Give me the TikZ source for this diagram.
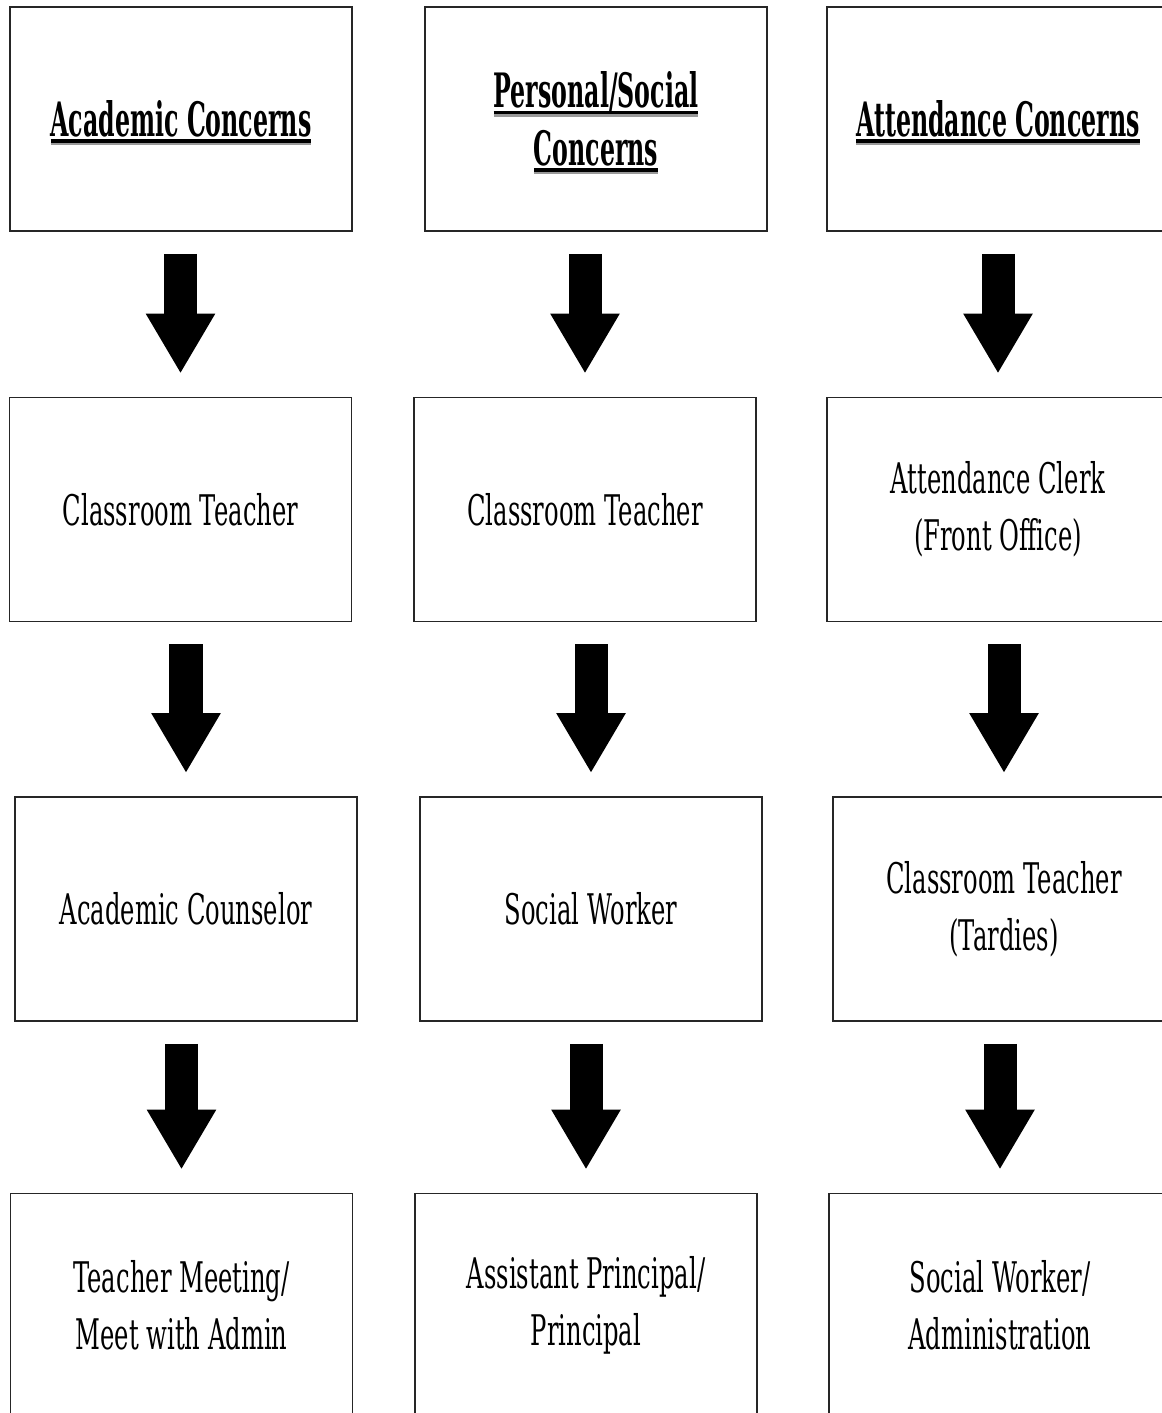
\documentclass[tikz,border=0pt]{standalone}
\usepackage{fontspec}
\setmainfont{DejaVu Serif}[FakeStretch=0.575]
\newfontfamily\headfont{DejaVu Serif}[FakeStretch=0.5]
\usetikzlibrary{arrows.meta}
\newsavebox{\headbox}
\newcommand{\uhead}[1]{\sbox{\headbox}{#1}%
  \rlap{\smash{\color{black!40}\rule[-6.2pt]{\wd\headbox}{1.7pt}}}%
  \rlap{\smash{\rule[-4.5pt]{\wd\headbox}{2.6pt}}}\usebox{\headbox}}

\begin{document}
\begin{tikzpicture}[x=0.025cm,y=-0.025cm,
		box/.style={rectangle,draw=black!85,line width=1.2pt,minimum width=8.55cm,minimum height=5.6cm,inner sep=0pt,align=center,font=\fontsize{30}{40.5}\selectfont},
		head/.style={box,font=\headfont\bfseries\fontsize{33.7}{41}\selectfont},
		flow/.style={line width=0.825cm,-{Triangle[length=1.5cm,width=1.625cm]},shorten <=0.55cm,shorten >=0.575cm}]
		\clip (0,0) rectangle (1162,1413);
		\fill[white] (0,0) rectangle (1162,1413);

		\node[head] (acad)  at (181,119)      {\uhead{Academic Concerns}};
		\node[head] (pers)  at (596,119)      {\uhead{Personal/Social}\\\uhead{Concerns}};
		\node[head] (att)   at (998,119)      {\uhead{Attendance Concerns}};

		\node[box]  (ct1)   at (180.5,509.5)  {Classroom Teacher};
		\node[box]  (ct2)   at (585,509.5)    {Classroom Teacher};
		\node[box]  (clerk) at (998,509.5)    {Attendance Clerk\\(Front Office)};

		\node[box]  (couns) at (186,909)      {Academic Counselor};
		\node[box]  (sw)    at (591,909)      {Social Worker};
		\node[box]  (ct3)   at (1004,909)     {Classroom Teacher\\(Tardies)};

		\node[box]  (meet)  at (181.5,1305.5) {Teacher Meeting/\\Meet with Admin};
		\node[box]  (prin)  at (586,1305.5)   {Assistant Principal/\\Principal};
		\node[box]  (swadm) at (1000,1305.5)  {Social Worker/\\Administration};

		\path[flow]
		(acad.south -| ct1.north) edge (ct1.north)
		(pers.south -| ct2.north) edge (ct2.north)
		(att.south -| clerk.north) edge (clerk.north)
		(ct1.south -| couns.north) edge (couns.north)
		(ct2.south -| sw.north) edge (sw.north)
		(clerk.south -| ct3.north) edge (ct3.north)
		(couns.south -| meet.north) edge (meet.north)
		(sw.south -| prin.north) edge (prin.north)
		(ct3.south -| swadm.north) edge (swadm.north);
\end{tikzpicture}
\end{document}
